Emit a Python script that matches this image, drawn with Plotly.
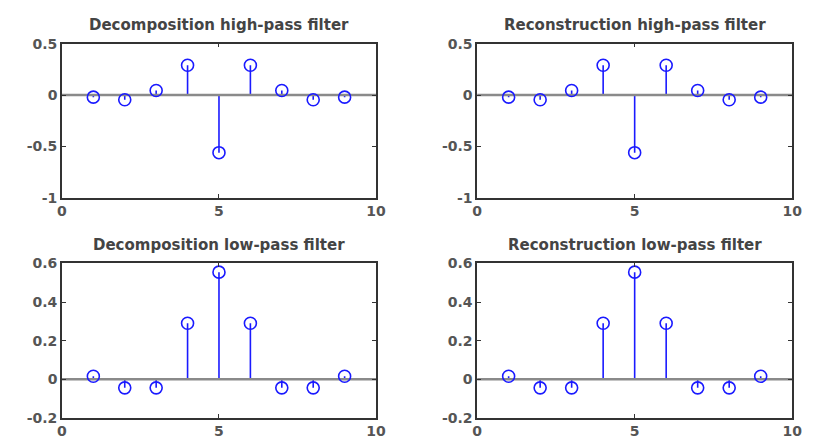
import plotly.graph_objects as go

# ---- data ----
n = [1, 2, 3, 4, 5, 6, 7, 8, 9]
dec_high = [-0.02, -0.045, 0.045, 0.29, -0.56, 0.29, 0.045, -0.045, -0.02]
rec_high = [-0.02, -0.045, 0.045, 0.29, -0.56, 0.29, 0.045, -0.045, -0.02]
dec_low = [0.015, -0.045, -0.045, 0.29, 0.555, 0.29, -0.045, -0.045, 0.015]
rec_low = [0.015, -0.045, -0.045, 0.29, 0.555, 0.29, -0.045, -0.045, 0.015]

titles = ["Decomposition high-pass filter", "Reconstruction high-pass filter",
          "Decomposition low-pass filter", "Reconstruction low-pass filter"]
series = [dec_high, rec_high, dec_low, rec_low]

high_ticks = [-1, -0.5, 0, 0.5]
low_ticks = [-0.2, 0, 0.2, 0.4, 0.6]
x_ticks = [0, 5, 10]
x_range = [0, 10]
high_range = [-1, 0.5]
low_range = [-0.2, 0.6]

# ---- layout geometry (px -> paper) ----
W, H = 813, 446
xdom = [[58 / W, 378 / W], [481 / W, 802 / W]]
ydom = [[1 - 197 / H, 1 - 37 / H], [1 - 425 / H, 1 - 265 / H]]

BLUE = "#1a1aff"
FONT = "DejaVu Sans"

fig = go.Figure()
layout = dict(width=W, height=H, margin=dict(l=0, r=0, t=0, b=0),
              paper_bgcolor="white", plot_bgcolor="white", showlegend=False)

annotations = []
for i, (vals, title) in enumerate(zip(series, titles)):
    row, col = divmod(i, 2)
    ax = "" if i == 0 else str(i + 1)
    xa, ya = "x" + ax, "y" + ax
    # stems
    sx, sy = [], []
    for xv, yv in zip(n, vals):
        sx += [xv, xv, None]
        sy += [0, yv, None]
    fig.add_trace(go.Scatter(x=sx, y=sy, mode="lines",
                             line=dict(color=BLUE, width=1.6),
                             xaxis=xa, yaxis=ya))
    # baseline
    fig.add_trace(go.Scatter(x=x_range, y=[0, 0], mode="lines",
                             line=dict(color="#8a8a8a", width=2.5),
                             xaxis=xa, yaxis=ya, hoverinfo="skip"))
    fig.add_trace(go.Scatter(x=n, y=vals, mode="markers",
                             marker=dict(symbol="circle-open", size=12,
                                         color=BLUE, line=dict(width=1.6, color=BLUE)),
                             xaxis=xa, yaxis=ya))
    common = dict(showgrid=False, zeroline=False, showline=True, linecolor="#333333",
                  linewidth=1.5, mirror="ticks", ticks="inside", ticklen=4,
                  tickcolor="#333333", tickwidth=1,
                  tickfont=dict(family=FONT, size=14, color="#555555", weight=700))
    layout["xaxis" + ax] = dict(domain=xdom[col], range=x_range, tickvals=x_ticks,
                                anchor=ya, **common)
    yr = high_range if row == 0 else low_range
    yt = high_ticks if row == 0 else low_ticks
    layout["yaxis" + ax] = dict(domain=ydom[row], range=yr, tickvals=yt,
                                ticktext=[("%g" % t) for t in yt],
                                anchor=xa, **common)
    annotations.append(dict(text=title, xref="paper", yref="paper",
                            x=(xdom[col][0] + xdom[col][1]) / 2, y=ydom[row][1] + 8 / H,
                            xanchor="center", yanchor="bottom", showarrow=False,
                            font=dict(family="DejaVu Sans", size=15, color="#444444",
                                      weight=700)))

layout["annotations"] = annotations
fig.update_layout(**layout)
fig.write_html("out.html")
